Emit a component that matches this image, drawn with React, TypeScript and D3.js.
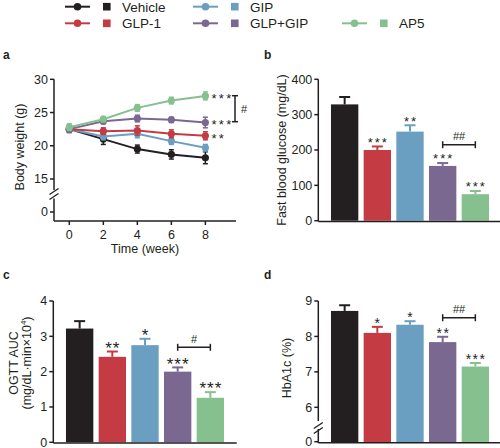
import React from "react";
import * as d3 from "d3";

const groups = ["Vehicle", "GLP-1", "GIP", "GLP+GIP", "AP5"];
const colors = ["#231f20", "#c43b43", "#6a9fc2", "#7a6891", "#86c08f"];

const weeks = [0, 2, 4, 6, 8];
const bwVehicle = [22.5, 21.0, 19.5, 18.7, 18.2];
const bwVehicleErr = [0.5, 0.8, 0.6, 0.7, 0.9];
const bwGLP1 = [22.5, 22.2, 22.3, 21.8, 21.5];
const bwGLP1Err = [0.4, 0.5, 0.7, 0.6, 0.6];
const bwGIP = [22.5, 21.4, 21.8, 20.7, 19.7];
const bwGIPErr = [0.4, 0.5, 0.6, 0.5, 0.5];
const bwGLPGIP = [22.5, 23.7, 24.1, 23.9, 23.5];
const bwGLPGIPErr = [0.5, 0.4, 0.5, 0.4, 0.8];
const bwAP5 = [22.8, 24.0, 25.7, 26.8, 27.5];
const bwAP5Err = [0.5, 0.4, 0.5, 0.5, 0.6];

const glucose = [329, 200, 252, 155, 75];
const glucoseErr = [21, 10, 18, 8, 9];
const glucoseSig = ["", "***", "**", "***", "***"];

const ogtt = [3.22, 2.42, 2.75, 2.0, 1.26];
const ogttErr = [0.21, 0.15, 0.18, 0.12, 0.16];
const ogttSig = ["", "**", "*", "***", "***"];

const hba1c = [8.72, 8.1, 8.33, 7.84, 7.15];
const hba1cErr = [0.16, 0.17, 0.1, 0.15, 0.1];
const hba1cSig = ["", "*", "*", "**", "***"];

const FONT = "'Liberation Sans', Arial, Helvetica, sans-serif";

const lineSeries = [
  { name: groups[0], color: colors[0], v: bwVehicle, e: bwVehicleErr },
  { name: groups[2], color: colors[2], v: bwGIP, e: bwGIPErr },
  { name: groups[1], color: colors[1], v: bwGLP1, e: bwGLP1Err },
  { name: groups[3], color: colors[3], v: bwGLPGIP, e: bwGLPGIPErr },
  { name: groups[4], color: colors[4], v: bwAP5, e: bwAP5Err },
];

function Legend() {
  const cols = [
    { x: 65, items: [0, 1] },
    { x: 193, items: [2, 3] },
    { x: 342, items: [4] },
  ];
  const rows = [6.7, 23.3];
  return (
    <g>
      {cols.map((c) =>
        c.items.map((gi, ri) => {
          const y = c.items.length === 1 ? rows[1] : rows[ri];
          return (
            <g key={gi}>
              <line x1={c.x} x2={c.x + 25} y1={y} y2={y} stroke={colors[gi]} strokeWidth={2} />
              <circle cx={c.x + 12.5} cy={y} r={3.8} fill={colors[gi]} />
              <rect x={c.x + 38} y={y - 3.8} width={7.6} height={7.6} fill={colors[gi]} />
              <text x={c.x + 57} y={y + 4.8} fontSize={13.5} fontFamily={FONT} fill="#231f20">
                {groups[gi]}
              </text>
            </g>
          );
        })
      )}
    </g>
  );
}

function BreakMark({ x, y }: { x: number; y: number }) {
  return (
    <g stroke="#231f20" strokeWidth={1.3}>
      <line x1={x - 4.5} y1={y + 0.5} x2={x + 4.5} y2={y - 5.5} />
      <line x1={x - 4.5} y1={y + 5.5} x2={x + 4.5} y2={y - 0.5} />
    </g>
  );
}

function PanelA() {
  const x = d3.scaleLinear().domain([-0.9, 9.8]).range([54, 236]);
  const yU = d3.scaleLinear().domain([15, 30]).range([179, 79.3]);
  const yL = d3.scaleLinear().domain([0, 1]).range([212, 205.35]);
  const upTicks = [15, 20, 25, 30];
  const line = d3
    .line<number>()
    .x((_, i) => x(weeks[i]))
    .y((d) => yU(d));
  const ax = 54;
  const axisY = 221;
  const starDy = 6.8;
  return (
    <g fontFamily={FONT} fill="#231f20">
      <text x={3} y={59} fontSize={12} fontWeight="bold">a</text>
      <line x1={ax} x2={ax} y1={yU(30)} y2={190} stroke="#231f20" strokeWidth={1.5} />
      <line x1={ax} x2={ax} y1={198.5} y2={axisY} stroke="#231f20" strokeWidth={1.5} />
      <BreakMark x={ax} y={194} />
      {upTicks.map((t) => (
        <g key={t}>
          <line x1={ax - 4} x2={ax} y1={yU(t)} y2={yU(t)} stroke="#231f20" strokeWidth={1.5} />
          <text x={ax - 6} y={yU(t) + 4.3} fontSize={12.5} textAnchor="end">{t}</text>
        </g>
      ))}
      <line x1={ax - 4} x2={ax} y1={yL(0)} y2={yL(0)} stroke="#231f20" strokeWidth={1.5} />
      <text x={ax - 6} y={yL(0) + 4.3} fontSize={12.5} textAnchor="end">0</text>
      <line x1={ax} x2={236} y1={axisY} y2={axisY} stroke="#231f20" strokeWidth={1.5} />
      {weeks.map((w) => (
        <g key={w}>
          <line x1={x(w)} x2={x(w)} y1={axisY} y2={axisY + 4} stroke="#231f20" strokeWidth={1.5} />
          <text x={x(w)} y={238.5} fontSize={12.5} textAnchor="middle">{w}</text>
        </g>
      ))}
      <text x={145} y={253} fontSize={12.5} textAnchor="middle">Time (week)</text>
      <text transform={`translate(24,147) rotate(-90)`} fontSize={12.5} textAnchor="middle">
        Body weight (g)
      </text>
      {lineSeries.map((s) => (
        <g key={s.name}>
          <path d={line(s.v) || ""} fill="none" stroke={s.color} strokeWidth={2} />
          {s.v.map((v, i) => (
            <g key={i} stroke={s.color} strokeWidth={1.5}>
              <line x1={x(weeks[i])} x2={x(weeks[i])} y1={yU(v - s.e[i])} y2={yU(v + s.e[i])} />
              <line x1={x(weeks[i]) - 2.5} x2={x(weeks[i]) + 2.5} y1={yU(v - s.e[i])} y2={yU(v - s.e[i])} />
              <line x1={x(weeks[i]) - 2.5} x2={x(weeks[i]) + 2.5} y1={yU(v + s.e[i])} y2={yU(v + s.e[i])} />
              <circle cx={x(weeks[i])} cy={yU(v)} r={3.6} fill={s.color} stroke="none" />
            </g>
          ))}
        </g>
      ))}
      <text x={211.5} y={yU(bwAP5[4]) + starDy} fontSize={13} letterSpacing={2.3}>***</text>
      <text x={211.5} y={yU(bwGLPGIP[4]) + starDy} fontSize={13} letterSpacing={2.3}>***</text>
      <text x={211.5} y={yU(bwGLP1[4]) + starDy} fontSize={13} letterSpacing={2.3}>**</text>
      <g stroke="#231f20" strokeWidth={1.5}>
        <line x1={235} x2={235} y1={95.7} y2={121.7} />
        <line x1={232} x2={238} y1={95.7} y2={95.7} />
        <line x1={232} x2={238} y1={121.7} y2={121.7} />
      </g>
      <text x={241} y={113} fontSize={11}>#</text>
    </g>
  );
}

type BarProps = {
  label: string;
  ax: number;
  top: number;
  bottom: number;
  domain: [number, number];
  ticks: number[];
  values: number[];
  errs: number[];
  sig: string[];
  starSize: number;
  starSpacing: number;
  hash: string;
  bracketY: number;
  yLabel: React.ReactNode;
  broken?: { low: number; breakY: number };
  axisEnd: number;
  labelPos: [number, number];
};

function BarPanel(p: BarProps) {
  const y = d3.scaleLinear().domain(p.domain).range([p.bottom, p.top]);
  const x = d3.scaleBand<string>().domain(groups).range([p.ax, p.ax + 183.4]).paddingInner(0.163).paddingOuter(0.388);
  const baseY = p.broken ? 442 : y(p.domain[0]);
  const cx = (i: number) => (x(groups[i]) as number) + x.bandwidth() / 2;
  return (
    <g fontFamily={FONT} fill="#231f20">
      <text x={p.labelPos[0]} y={p.labelPos[1]} fontSize={12} fontWeight="bold">{p.label}</text>
      {groups.map((g, i) => (
        <g key={g}>
          <rect x={x(g)} y={y(p.values[i])} width={x.bandwidth()} height={baseY - y(p.values[i])} fill={colors[i]} />
          <g stroke={colors[i]} strokeWidth={2}>
            <line x1={cx(i)} x2={cx(i)} y1={y(p.values[i])} y2={y(p.values[i] + p.errs[i])} />
            <line x1={cx(i) - 5.5} x2={cx(i) + 5.5} y1={y(p.values[i] + p.errs[i])} y2={y(p.values[i] + p.errs[i])} />
          </g>
          {p.sig[i] && (
            <text
              x={cx(i) + p.starSpacing / 2}
              y={y(p.values[i] + p.errs[i]) - 6.5 + 0.52 * p.starSize}
              fontSize={p.starSize}
              letterSpacing={p.starSpacing}
              textAnchor="middle"
            >
              {p.sig[i]}
            </text>
          )}
        </g>
      ))}
      <g stroke="#231f20" strokeWidth={1.5}>
        <line x1={cx(3)} x2={cx(4)} y1={p.bracketY} y2={p.bracketY} />
        <line x1={cx(3)} x2={cx(3)} y1={p.bracketY - 3.5} y2={p.bracketY + 3.5} />
        <line x1={cx(4)} x2={cx(4)} y1={p.bracketY - 3.5} y2={p.bracketY + 3.5} />
      </g>
      <text x={(cx(3) + cx(4)) / 2} y={p.bracketY - 4.3} fontSize={11} textAnchor="middle">{p.hash}</text>
      {p.broken ? (
        <g>
          <line x1={p.ax} x2={p.ax} y1={p.top} y2={p.broken.breakY - 4} stroke="#231f20" strokeWidth={1.5} />
          <line x1={p.ax} x2={p.ax} y1={p.broken.breakY + 4} y2={443} stroke="#231f20" strokeWidth={1.5} />
          <BreakMark x={p.ax} y={p.broken.breakY + 3} />
          <line x1={p.ax - 4} x2={p.ax} y1={441.7} y2={441.7} stroke="#231f20" strokeWidth={1.5} />
          <text x={p.ax - 6} y={441.7 + 4.3} fontSize={12.5} textAnchor="end">0</text>
        </g>
      ) : (
        <line x1={p.ax} x2={p.ax} y1={p.top} y2={p.bottom + 0.7} stroke="#231f20" strokeWidth={1.5} />
      )}
      {p.ticks.map((t) => (
        <g key={t}>
          <line x1={p.ax - 4} x2={p.ax} y1={y(t)} y2={y(t)} stroke="#231f20" strokeWidth={1.5} />
          <text x={p.ax - 6} y={y(t) + 4.3} fontSize={12.5} textAnchor="end">{t}</text>
        </g>
      ))}
      <line x1={p.ax} x2={p.axisEnd} y1={p.broken ? 442.7 : p.bottom + 0.7} y2={p.broken ? 442.7 : p.bottom + 0.7} stroke="#231f20" strokeWidth={1.5} />
      {p.yLabel}
    </g>
  );
}

export default function App() {
  return (
    <svg width={500} height={448} style={{ position: "absolute", left: 0, top: 0, background: "#fff" }}>
      <rect width={500} height={448} fill="#fff" />
      <Legend />
      <PanelA />
      <BarPanel
        label="b"
        labelPos={[264, 59]}
        ax={318.3}
        top={79.3}
        bottom={220.7}
        domain={[0, 400]}
        ticks={[0, 100, 200, 300, 400]}
        values={glucose}
        errs={glucoseErr}
        sig={glucoseSig}
        starSize={13}
        starSpacing={2}
        hash="##"
        bracketY={144.7}
        axisEnd={500}
        yLabel={
          <text transform="translate(286,150) rotate(-90)" fontSize={12.5} textAnchor="middle">
            Fast blood glucose (mg/dL)
          </text>
        }
      />
      <BarPanel
        label="c"
        labelPos={[3, 279]}
        ax={53.3}
        top={301}
        bottom={442.3}
        domain={[0, 4]}
        ticks={[0, 1, 2, 3, 4]}
        values={ogtt}
        errs={ogttErr}
        sig={ogttSig}
        starSize={17}
        starSpacing={1}
        hash="#"
        bracketY={347.3}
        axisEnd={236.7}
        yLabel={
          <g>
            <text transform="translate(17.5,363) rotate(-90)" fontSize={12.5} textAnchor="middle">
              OGTT AUC
            </text>
            <text transform="translate(31,363) rotate(-90)" fontSize={12.5} textAnchor="middle">
              (mg/dL·min×10<tspan dy={-5} fontSize={8}>4</tspan><tspan dy={5}>)</tspan>
            </text>
          </g>
        }
      />
      <BarPanel
        label="d"
        labelPos={[264, 279]}
        ax={318.3}
        top={301}
        bottom={407.3}
        domain={[6, 9]}
        ticks={[6, 7, 8, 9]}
        values={hba1c}
        errs={hba1cErr}
        sig={hba1cSig}
        starSize={14}
        starSpacing={1.5}
        hash="##"
        bracketY={317.7}
        axisEnd={500}
        broken={{ low: 0, breakY: 425 }}
        yLabel={
          <text transform="translate(291,368) rotate(-90)" fontSize={12.5} textAnchor="middle">
            HbA1c (%)
          </text>
        }
      />
    </svg>
  );
}
